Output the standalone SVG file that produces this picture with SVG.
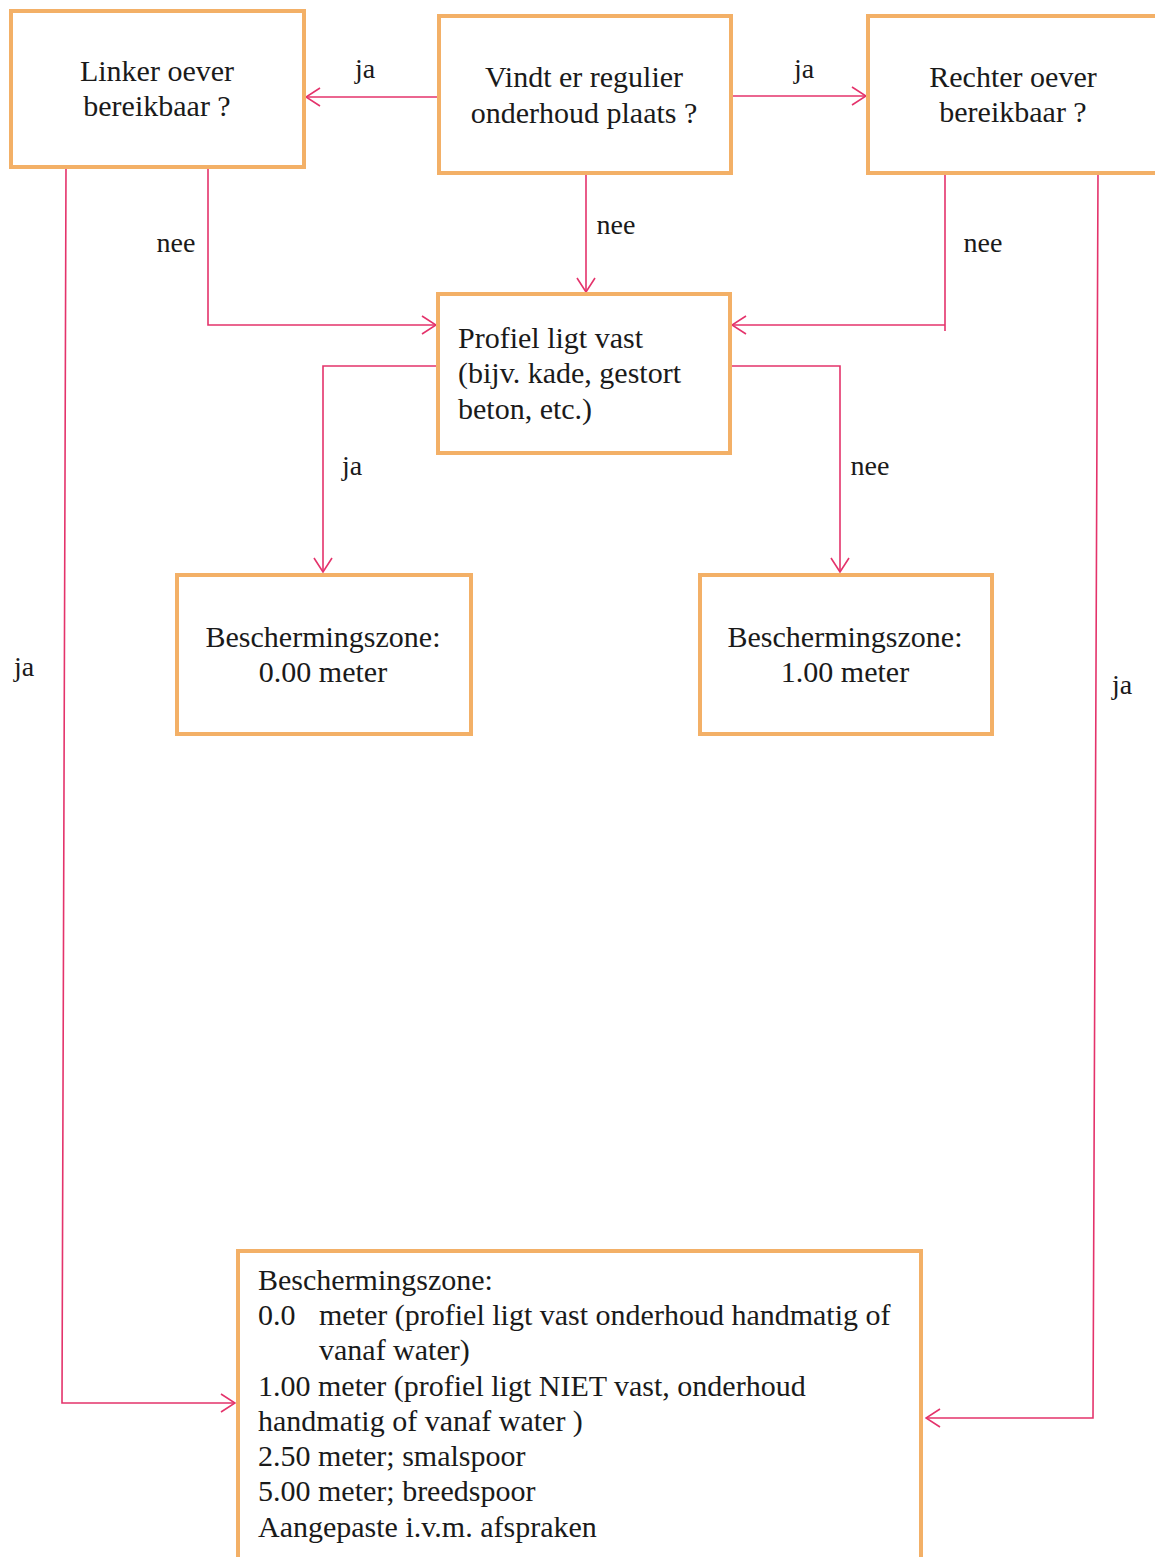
<svg xmlns="http://www.w3.org/2000/svg" width="1155" height="1557" viewBox="0 0 1155 1557">
<style>
.box{fill:#fff;stroke:#F3B067;stroke-width:4}
.t{font-family:"Liberation Serif","Times New Roman",serif;font-size:30px;fill:#1a1a1a}
.c{text-anchor:middle}
.lbl{font-family:"Liberation Serif","Times New Roman",serif;font-size:28px;fill:#1a1a1a}
.ln{fill:none;stroke:#E4336B;stroke-width:1.6}
</style>
<defs>
<marker id="ah" markerUnits="userSpaceOnUse" viewBox="0 0 16 20" markerWidth="16" markerHeight="20" refX="15" refY="10" orient="auto">
<path d="M1,1 L15,10 L1,19" fill="none" stroke="#E4336B" stroke-width="1.6"/>
</marker>
</defs>
<rect width="1155" height="1557" fill="#fff"/>

<g id="connectors">
<line class="ln" x1="438" y1="97" x2="306" y2="97" marker-end="url(#ah)"/>
<line class="ln" x1="731" y1="96" x2="866" y2="96" marker-end="url(#ah)"/>
<line class="ln" x1="586" y1="173" x2="586" y2="292" marker-end="url(#ah)"/>
<polyline class="ln" points="208,168 208,325 436,325" marker-end="url(#ah)"/>
<line class="ln" x1="945" y1="173" x2="945" y2="331"/>
<line class="ln" x1="945" y1="325" x2="732" y2="325" marker-end="url(#ah)"/>
<polyline class="ln" points="437,366 323,366 323,572" marker-end="url(#ah)"/>
<polyline class="ln" points="731,366 840,366 840,572" marker-end="url(#ah)"/>
<polyline class="ln" points="66,168 62,1403 235,1403" marker-end="url(#ah)"/>
<polyline class="ln" points="1098,173 1093,1418 926,1418" marker-end="url(#ah)"/>
<text class="lbl" x="365" y="78" text-anchor="middle">ja</text>
<text class="lbl" x="804" y="78" text-anchor="middle">ja</text>
<text class="lbl" x="616" y="234" text-anchor="middle">nee</text>
<text class="lbl" x="176" y="252" text-anchor="middle">nee</text>
<text class="lbl" x="983" y="252" text-anchor="middle">nee</text>
<text class="lbl" x="352" y="475" text-anchor="middle">ja</text>
<text class="lbl" x="870" y="475" text-anchor="middle">nee</text>
<text class="lbl" x="24" y="676" text-anchor="middle">ja</text>
<text class="lbl" x="1122" y="694" text-anchor="middle">ja</text>
</g>

<g id="node-linker">
<rect class="box" x="11" y="11" width="293" height="156"/>
<text class="t c" x="157" y="81">Linker oever</text>
<text class="t c" x="157" y="116">bereikbaar ?</text>
</g>

<g id="node-regulier">
<rect class="box" x="439" y="16" width="292" height="157"/>
<text class="t c" x="584" y="87">Vindt er regulier</text>
<text class="t c" x="584" y="123">onderhoud plaats ?</text>
</g>

<g id="node-rechter">
<rect class="box" x="868" y="16" width="300" height="157"/>
<text class="t c" x="1013" y="87">Rechter oever</text>
<text class="t c" x="1013" y="122">bereikbaar ?</text>
</g>

<g id="node-profiel">
<rect class="box" x="438" y="294" width="292" height="159"/>
<text class="t" x="458" y="348">Profiel ligt vast</text>
<text class="t" x="458" y="383">(bijv. kade, gestort</text>
<text class="t" x="458" y="419">beton, etc.)</text>
</g>

<g id="node-zone0">
<rect class="box" x="177" y="575" width="294" height="159"/>
<text class="t c" x="323" y="647">Beschermingszone:</text>
<text class="t c" x="323" y="682">0.00 meter</text>
</g>

<g id="node-zone1">
<rect class="box" x="700" y="575" width="292" height="159"/>
<text class="t c" x="845" y="647">Beschermingszone:</text>
<text class="t c" x="845" y="682">1.00 meter</text>
</g>

<g id="node-overzicht">
<rect class="box" x="238" y="1251" width="683" height="330"/>
<text class="t" x="258" y="1290">Beschermingszone:</text>
<text class="t" x="258" y="1325">0.0</text>
<text class="t" x="319" y="1325">meter (profiel ligt vast onderhoud handmatig of</text>
<text class="t" x="319" y="1360">vanaf water)</text>
<text class="t" x="258" y="1396">1.00 meter (profiel ligt NIET vast, onderhoud</text>
<text class="t" x="258" y="1431">handmatig of vanaf water )</text>
<text class="t" x="258" y="1466">2.50 meter; smalspoor</text>
<text class="t" x="258" y="1501">5.00 meter; breedspoor</text>
<text class="t" x="258" y="1537">Aangepaste i.v.m. afspraken</text>
</g>
</svg>
